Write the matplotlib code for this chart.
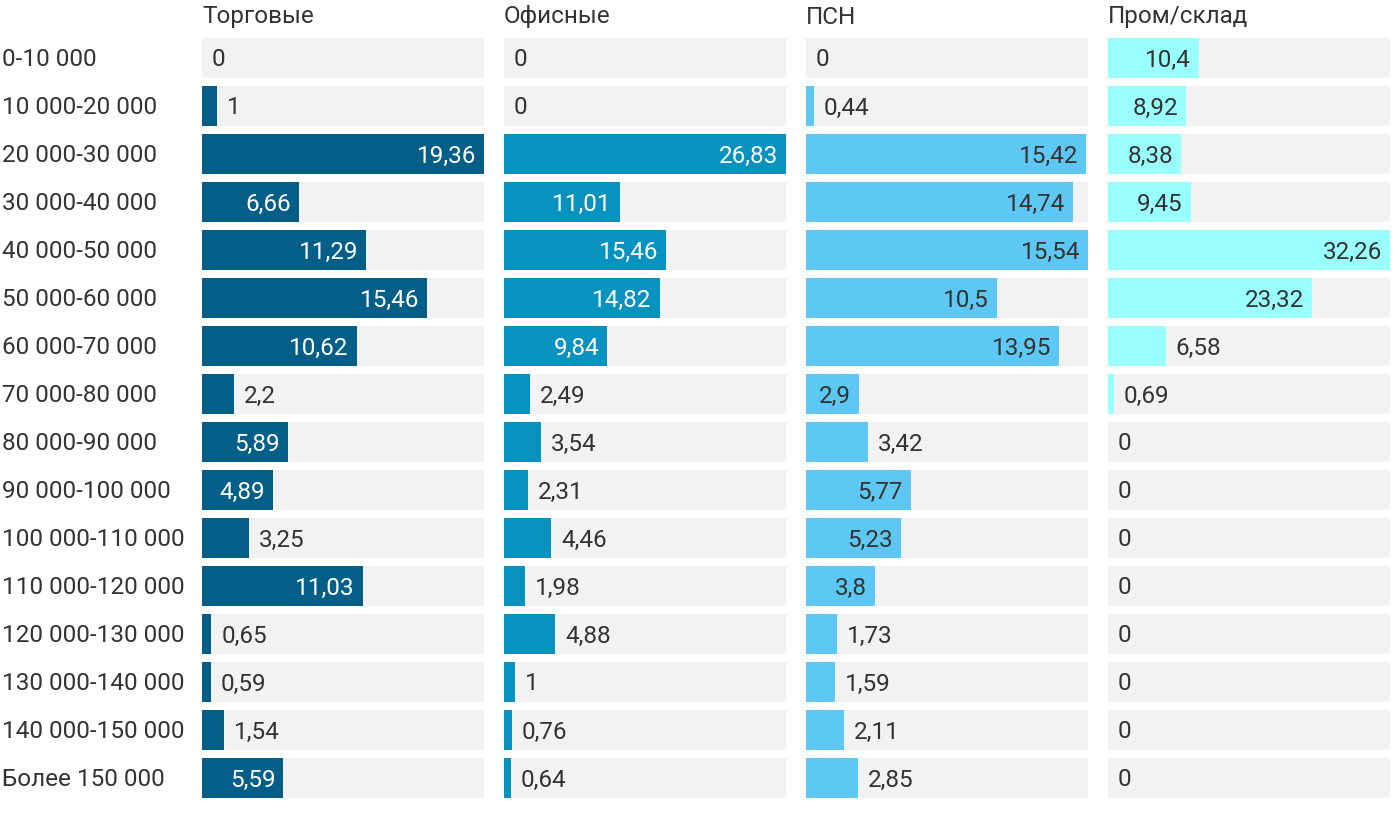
import matplotlib.pyplot as plt

# price ranges (rows) and the four property types (panels)
categories = ['0-10 000', '10 000-20 000', '20 000-30 000', '30 000-40 000',
              '40 000-50 000', '50 000-60 000', '60 000-70 000', '70 000-80 000',
              '80 000-90 000', '90 000-100 000', '100 000-110 000', '110 000-120 000',
              '120 000-130 000', '130 000-140 000', '140 000-150 000', 'Более 150 000']

titles = ['Торговые', 'Офисные', 'ПСН', 'Пром/склад']

retail = [0, 1, 19.36, 6.66, 11.29, 15.46, 10.62, 2.2, 5.89, 4.89, 3.25, 11.03, 0.65, 0.59, 1.54, 5.59]
office = [0, 0, 26.83, 11.01, 15.46, 14.82, 9.84, 2.49, 3.54, 2.31, 4.46, 1.98, 4.88, 1, 0.76, 0.64]
psn = [0, 0.44, 15.42, 14.74, 15.54, 10.5, 13.95, 2.9, 3.42, 5.77, 5.23, 3.8, 1.73, 1.59, 2.11, 2.85]
industrial = [10.4, 8.92, 8.38, 9.45, 32.26, 23.32, 6.58, 0.69, 0, 0, 0, 0, 0, 0, 0, 0]

series = [retail, office, psn, industrial]
bar_colors = ['#035f88', '#0892bf', '#5ec8f5', '#99ffff']
inside_text = ['white', 'white', '#333333', '#333333']
dark = '#333333'

plt.rcParams['font.family'] = ['Roboto', 'DejaVu Sans']
FS = 17.5

W, H = 1400, 814
fig = plt.figure(figsize=(W / 100, H / 100), dpi=100)
fig.patch.set_facecolor('white')

panel_left = [202, 504, 806, 1108]
panel_w = 282
top_px, bottom_px = 34, 802
n = len(categories)
dy = 2  # small downward nudge of text, px


def fmt(v):
    return f'{v:g}'.replace('.', ',')


renderer = fig.canvas.get_renderer()

for k, vals in enumerate(series):
    ax = fig.add_axes([panel_left[k] / W, 1 - bottom_px / H, panel_w / W, (bottom_px - top_px) / H])
    vmax = max(vals)
    ax.set_xlim(0, vmax)
    ax.set_ylim(n - 0.5, -0.5)
    ax.axis('off')
    ys = list(range(n))
    ax.barh(ys, [vmax] * n, height=40 / 48, color='#f2f2f2', linewidth=0)
    ax.barh(ys, vals, height=40 / 48, color=bar_colors[k], linewidth=0)

    px_per_unit = panel_w / vmax
    for i, v in enumerate(vals):
        label = fmt(v)
        t = ax.text(0, i + dy / 48, label, fontsize=FS, va='center', ha='left')
        tw = t.get_window_extent(renderer=renderer).width
        bar_px = v * px_per_unit
        if bar_px >= tw + 18:
            t.set_x(v - 8 / px_per_unit)
            t.set_ha('right')
            t.set_color(inside_text[k])
        else:
            t.set_x(v + 10 / px_per_unit)
            t.set_color(dark)

    fig.text(panel_left[k] / W, 1 - (15 + dy) / H, titles[k], fontsize=FS, color=dark,
             ha='left', va='center')

for i, c in enumerate(categories):
    fig.text(2 / W, 1 - (58 + dy + 48 * i) / H, c, fontsize=FS, color=dark,
             ha='left', va='center')

fig.savefig('out.png', dpi=100, facecolor='white')
